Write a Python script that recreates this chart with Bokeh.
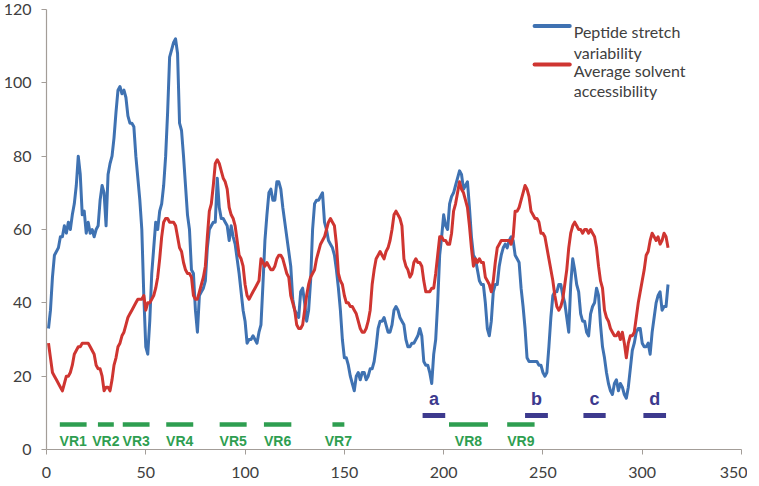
from bokeh.plotting import figure
from bokeh.models import Range1d, FixedTicker, Label, ColumnDataSource
from bokeh.embed import file_html
from bokeh.resources import INLINE
from bokeh.core.properties import value

residues = list(range(1, 314))

variability = [
    33, 38, 47, 53, 54, 55, 58, 58, 61, 59,
    62, 60, 64, 67, 72, 80, 75, 64, 65, 59,
    62, 59, 60, 58, 60, 61, 68, 72, 70, 61,
    75, 78, 80, 85, 92, 98, 99, 97, 98, 96,
    91, 89, 89, 88, 80, 74, 68, 60, 42, 28,
    26, 35, 48, 55, 62, 60, 65, 67, 72, 80,
    92, 107, 109, 111, 112, 108, 89, 87, 80, 72,
    64, 60, 49, 48, 38, 32, 42, 43, 44, 46,
    55, 60, 61, 62, 62, 74, 66, 63, 63, 62,
    61, 57, 61, 58, 56, 52, 48, 43, 38, 35,
    29, 30, 30, 31, 30, 29, 32, 34, 45, 57,
    64, 70, 71, 68, 68, 73, 73, 71, 66, 62,
    58, 54, 50, 41, 38, 37, 36, 43, 44, 40,
    35, 38, 46, 60, 67, 68, 68, 69, 70, 62,
    60, 57, 56, 55, 53, 49, 44, 38, 30, 25,
    25, 23, 20, 18, 16, 20, 21, 19, 21, 21,
    19, 20, 22, 22, 24, 28, 33, 35, 35, 36,
    34, 32, 32, 34, 38, 39, 38, 36, 35, 34,
    30, 28, 28, 29, 29, 30, 31, 33, 31, 24,
    23, 23, 21, 18, 26, 30, 40, 53, 58, 64,
    61, 60, 67, 69, 70, 72, 74, 76, 75, 71,
    72, 73, 66, 58, 53, 52, 49, 46, 45, 45,
    40, 33, 31, 35, 43, 45, 45, 50, 53, 55,
    56, 55, 57, 58, 57, 53, 52, 51, 44, 39,
    33, 25, 24, 24, 24, 24, 24, 23, 23, 21,
    20, 21, 28, 36, 42, 43, 43, 45, 45, 42,
    40, 36, 32, 45, 52, 49, 45, 43, 37, 35,
    35, 32, 31, 37, 39, 40, 44, 42, 34, 28,
    25, 21, 18, 16, 15, 18, 19, 16, 18, 17,
    15, 14, 17, 22, 27, 29, 32, 33, 33, 29,
    28, 28, 29, 26, 32, 36, 40, 42, 43, 38,
    39, 39, 45,
]

accessibility = [
    29, 25, 21, 20, 19, 18, 17, 16, 18, 20,
    20, 21, 23, 26, 27, 28, 28, 29, 29, 29,
    29, 28, 27, 26, 23, 22, 22, 20, 16, 17,
    17, 16, 19, 23, 25, 28, 29, 31, 32, 34,
    36, 37, 38, 39, 40, 41, 41, 41, 42, 38,
    40, 40, 41, 42, 44, 47, 52, 58, 62, 63,
    63, 62, 62, 62, 61, 58, 55, 54, 51, 49,
    48, 48, 47, 42, 41, 41, 43, 45, 47, 50,
    58, 65, 67, 72, 78, 79, 78, 76, 74, 73,
    71, 66, 64, 63, 61, 57, 53, 52, 50, 45,
    42, 41, 42, 43, 44, 45, 46, 52, 51, 50,
    51, 50, 49, 49, 50, 52, 53, 53, 52, 50,
    48, 47, 42, 40, 38, 34, 33, 33, 34, 38,
    42, 45, 47, 48, 49, 52, 54, 56, 57, 58,
    60, 62, 63, 62, 61, 56, 48, 46, 45, 42,
    40, 40, 39, 39, 38, 37, 35, 33, 32, 32,
    33, 35, 38, 45, 49, 52, 53, 54, 53, 52,
    54, 55, 57, 60, 64, 65, 64, 63, 61, 52,
    50, 49, 47, 48, 51, 52, 51, 51, 50, 46,
    43, 43, 43, 44, 44, 48, 53, 58, 58, 57,
    57, 56, 56, 59, 65, 67, 70, 73, 71, 70,
    68, 66, 61, 55, 50, 52, 51, 52, 51, 51,
    47, 46, 45, 43, 46, 51, 55, 56, 57, 57,
    57, 57, 57, 56, 58, 65, 65, 66, 68, 70,
    72, 71, 69, 65, 64, 63, 63, 62, 59, 59,
    58, 55, 52, 49, 46, 42, 39, 38, 39, 41,
    45, 49, 55, 59, 61, 62, 61, 60, 60, 59,
    60, 60, 59, 60, 59, 58, 55, 50, 46, 44,
    38, 36, 35, 33, 32, 31, 31, 32, 30, 32,
    29, 25, 29, 31, 31, 32, 36, 40, 43, 46,
    49, 53, 54, 57, 59, 58, 57, 58, 56, 57,
    59, 58, 55,
]

vr_labels = ["VR1", "VR2", "VR3", "VR4", "VR5", "VR6", "VR7", "VR8", "VR9"]
vr_start = [6.7, 25.9, 38.4, 60.3, 87.2, 109.5, 144.0, 202.7, 232.0]
vr_end = [20.2, 33.9, 51.9, 73.9, 100.8, 123.3, 150.0, 222.3, 245.8]

site_labels = ["a", "b", "c", "d"]
site_start = [189.4, 241.0, 270.4, 300.6]
site_end = [200.8, 252.5, 281.6, 312.0]

x_ticks = [0, 50, 100, 150, 200, 250, 300, 350]
y_ticks = [0, 20, 40, 60, 80, 100, 120]

BLUE = "#3f72b2"
RED = "#cf3531"
GREEN = "#2e9e50"
PURPLE = "#3d3a8e"
AXIS = "#a39d98"
TXT = "#404040"

p = figure(frame_width=695, frame_height=440,
           x_range=Range1d(0, 350), y_range=Range1d(0, 120),
           output_backend="svg", toolbar_location=None,
           min_border_left=38, min_border_right=6,
           min_border_top=9, min_border_bottom=35)
p.outline_line_color = None
p.xgrid.visible = False
p.ygrid.visible = False
p.background_fill_color = "white"
p.border_fill_color = "white"

for ax in (p.xaxis[0], p.yaxis[0]):
    ax.axis_line_color = AXIS
    ax.axis_line_width = 1.2
    ax.major_tick_line_color = AXIS
    ax.major_tick_in = 0
    ax.major_tick_out = 5
    ax.minor_tick_line_color = None
    ax.major_label_text_font = "Lato"
    ax.major_label_text_font_size = "16px"
    ax.major_label_text_color = TXT
p.xaxis[0].ticker = FixedTicker(ticks=x_ticks)
p.yaxis[0].ticker = FixedTicker(ticks=y_ticks)
p.xaxis[0].major_label_standoff = 12
p.yaxis[0].major_label_standoff = 10

src = ColumnDataSource(dict(res=residues, var=variability, acc=accessibility))
p.line("res", "var", source=src, line_color=BLUE, line_width=3, line_join="round")
p.line("res", "acc", source=src, line_color=RED, line_width=3, line_join="round")

# variable regions
vr_mid = [(a + b) / 2 for a, b in zip(vr_start, vr_end)]
p.segment(x0=vr_start, x1=vr_end, y0=[6.8] * len(vr_start), y1=[6.8] * len(vr_start),
          line_color=GREEN, line_width=4.5)
p.text(x=vr_mid, y=[2.2] * len(vr_mid), text=vr_labels,
       text_font=value("Liberation Sans"), text_font_style="bold",
       text_font_size="14px", text_color=GREEN,
       text_align="center", text_baseline="middle")

# sites
site_mid = [(a + b) / 2 for a, b in zip(site_start, site_end)]
p.segment(x0=site_start, x1=site_end, y0=[9.3] * len(site_start), y1=[9.3] * len(site_start),
          line_color=PURPLE, line_width=5)
p.text(x=site_mid, y=[11.0] * len(site_mid), text=site_labels,
       text_font=value("Liberation Sans"), text_font_style="bold",
       text_font_size="18px", text_color=PURPLE,
       text_align="center", text_baseline="bottom")

# legend (manual, two-line labels)
p.segment(x0=[245.8, 245.8], x1=[263.5, 263.5], y0=[115.5, 105.0], y1=[115.5, 105.0],
          line_color=[BLUE, RED], line_width=4, line_cap="round")
legend_lines = [("Peptide stretch", 114.0), ("variability", 108.3),
                ("Average solvent", 103.5), ("accessibility", 97.8)]
for t, yy in legend_lines:
    p.add_layout(Label(x=265.5, y=yy, text=t, text_font="Lato",
                       text_font_size="16px", text_color=TXT,
                       text_baseline="alphabetic", text_align="left"))

open("out.html", "w").write(file_html(p, INLINE))
